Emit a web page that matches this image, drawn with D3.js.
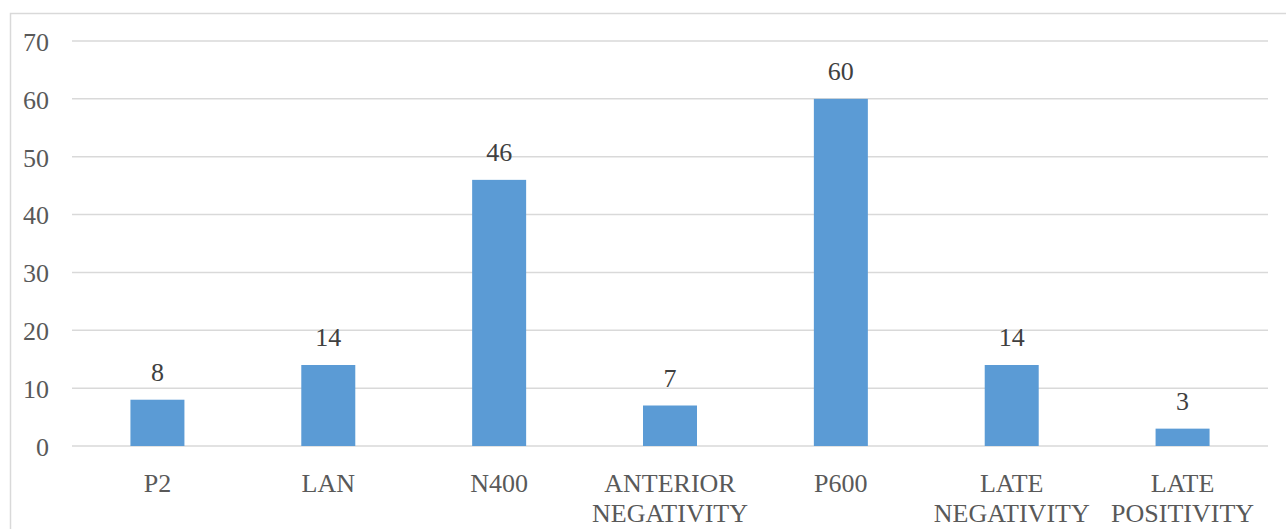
<!DOCTYPE html>
<html>
<head>
<meta charset="utf-8">
<script src="https://cdn.jsdelivr.net/npm/d3@7"></script>
<style>
  html, body { margin: 0; padding: 0; background: #fff; }
  #chart text { font-family: "Liberation Serif", "Times New Roman", "DejaVu Serif", serif !important; }
</style>
</head>
<body>
<svg id="chart" width="1286" height="529"></svg>
<script>
// ERP components and number of studies reporting each
const categories = ["P2", "LAN", "N400", "ANTERIOR\nNEGATIVITY", "P600", "LATE\nNEGATIVITY", "LATE\nPOSITIVITY"];
const counts = [8, 14, 46, 7, 60, 14, 3];
const yTicks = [0, 10, 20, 30, 40, 50, 60, 70];

const svg = d3.select("#chart");
const W = 1286, H = 529;
const plot = { left: 72, right: 1268, top: 41, bottom: 446 };
const fontSize = 26;

// chart frame
svg.append("rect")
  .attr("x", 10.5).attr("y", 13.5)
  .attr("width", W + 10).attr("height", H + 10)
  .attr("fill", "none").attr("stroke", "#d9d9d9").attr("stroke-width", 1.5);

const x = d3.scaleBand()
  .domain(categories)
  .range([plot.left, plot.right])
  .paddingInner(0.684).paddingOuter(0.342);

const y = d3.scaleLinear().domain([0, 70]).range([plot.bottom, plot.top]);

// horizontal gridlines
svg.append("g").selectAll("line").data(yTicks).join("line")
  .attr("x1", plot.left).attr("x2", plot.right)
  .attr("y1", d => y(d)).attr("y2", d => y(d))
  .attr("stroke", "#d9d9d9").attr("stroke-width", 1.5);

// y axis labels
const yAxis = d3.axisLeft(y).tickValues(yTicks).tickSize(0).tickPadding(0);
const gy = svg.append("g").attr("transform", "translate(49,0)").call(yAxis);
gy.attr("font-family", null).attr("font-size", null);
gy.select(".domain").remove();
gy.selectAll("text")
  .attr("font-size", fontSize).attr("fill", "#595959")
  .attr("dy", "0.36em");

// bars
svg.append("g").selectAll("rect").data(counts).join("rect")
  .attr("x", (d, i) => x(categories[i]))
  .attr("width", x.bandwidth())
  .attr("y", d => y(d))
  .attr("height", d => y(0) - y(d))
  .attr("fill", "#5b9bd5");

// value labels above bars
svg.append("g").selectAll("text").data(counts).join("text")
  .attr("x", (d, i) => x(categories[i]) + x.bandwidth() / 2)
  .attr("y", d => y(d) - 19)
  .attr("text-anchor", "middle")
  .attr("font-size", fontSize).attr("fill", "#404040")
  .text(d => d);

// category labels
const xAxis = d3.axisBottom(x).tickSize(0).tickFormat("");
const gx = svg.append("g").attr("transform", `translate(0,${plot.bottom})`).call(xAxis);
gx.attr("font-family", null).attr("font-size", null);
gx.select(".domain").remove();
gx.selectAll(".tick").each(function(d) {
  const lines = d.split("\n");
  const t = d3.select(this).append("text")
    .attr("text-anchor", "middle")
    .attr("font-size", fontSize).attr("fill", "#595959");
  lines.forEach((ln, k) => {
    t.append("tspan").attr("x", 0).attr("y", 46 + k * 30).text(ln);
  });
});
</script>
</body>
</html>
